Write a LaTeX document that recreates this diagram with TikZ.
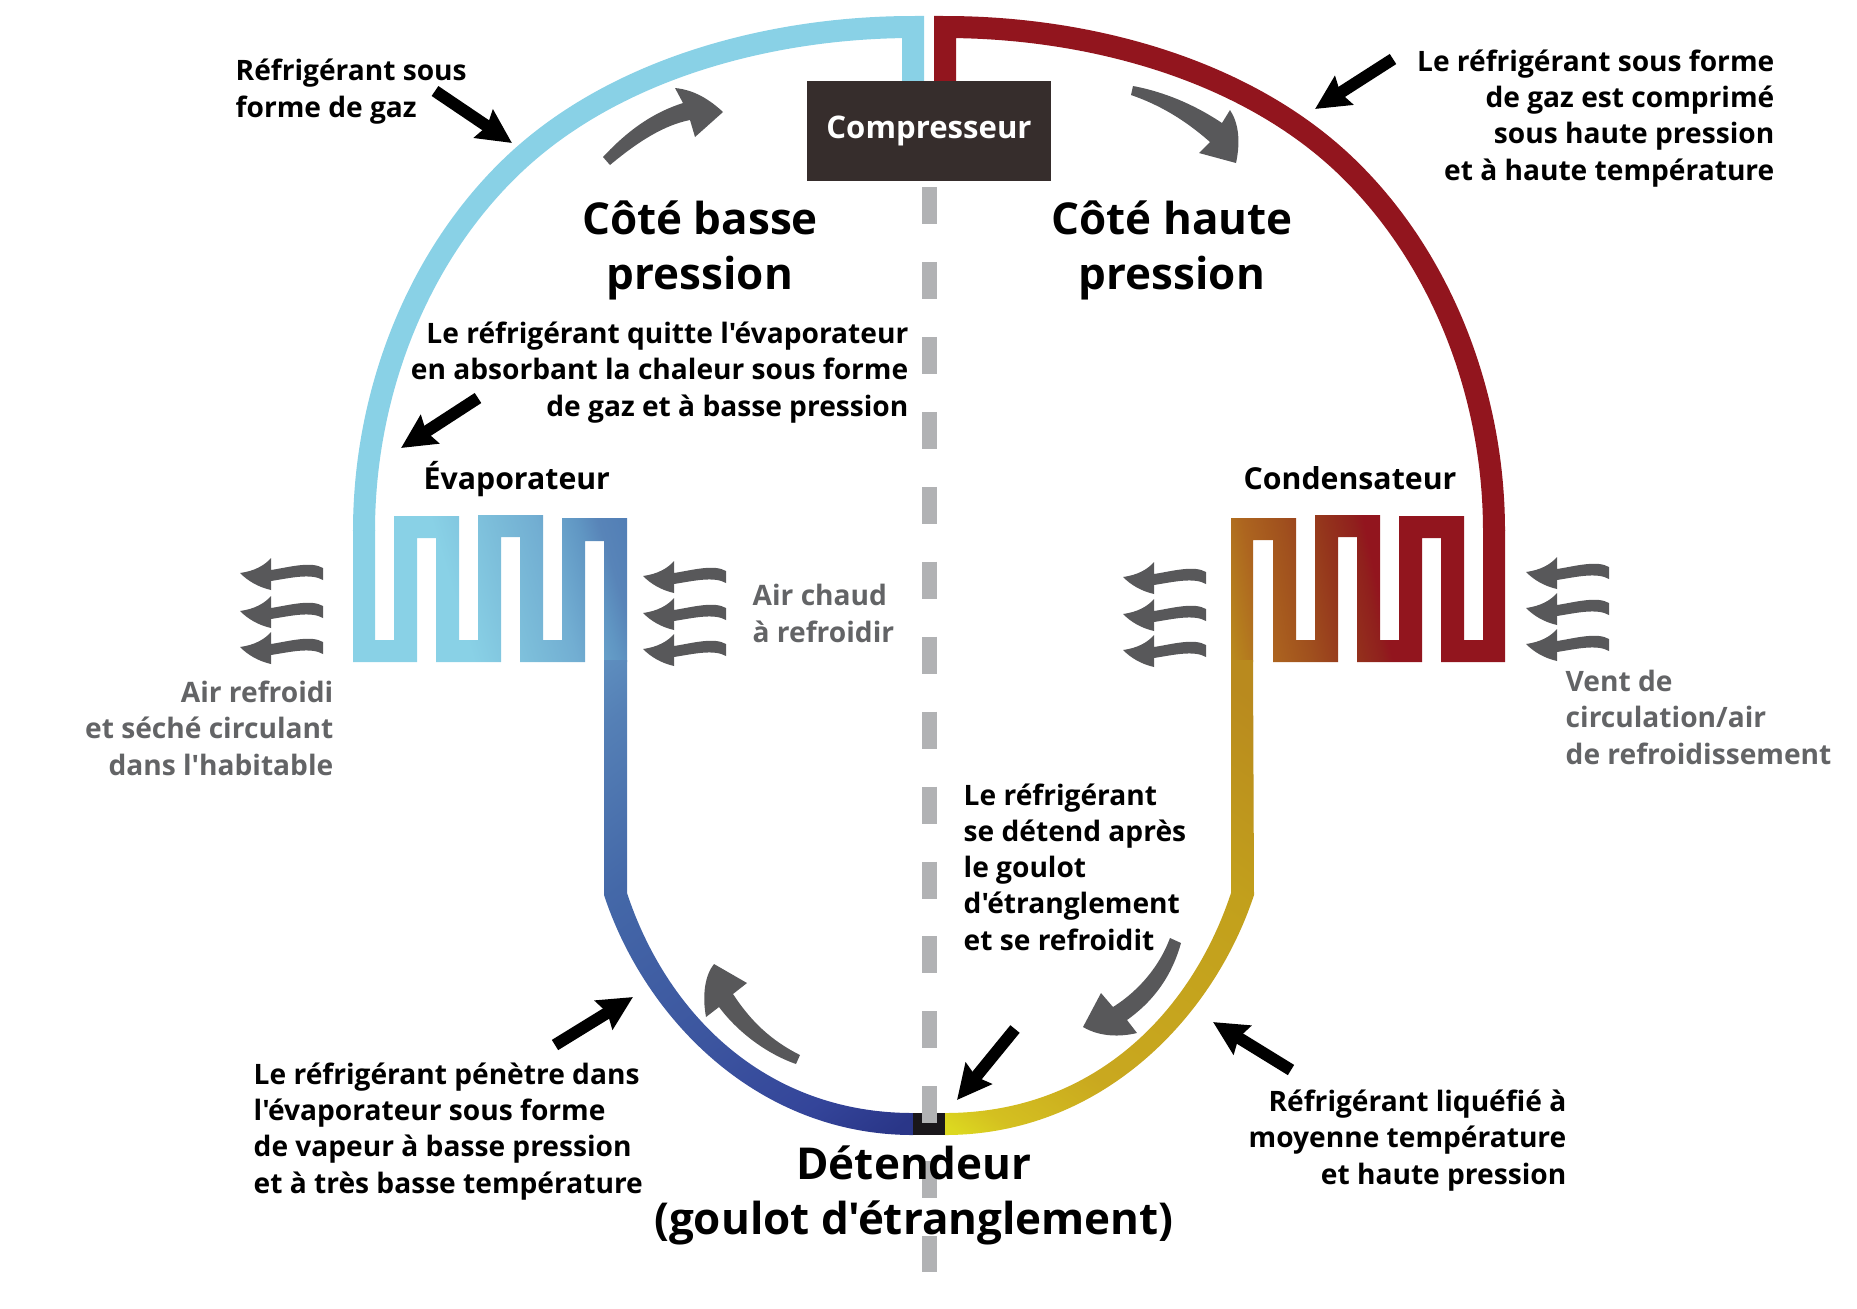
\documentclass[tikz,border=0pt]{standalone}
\usepackage{fontspec}
\usetikzlibrary{arrows.meta}
\newfontfamily\labelfont{Open Sans}
\definecolor{coldblue}{HTML}{89D1E6}
\definecolor{hotred}{HTML}{92151E}
\definecolor{boxbrown}{HTML}{362D2C}
\definecolor{flowgrey}{HTML}{58585A}
\definecolor{dashgrey}{HTML}{B1B2B4}
\definecolor{notegrey}{HTML}{636466}
\definecolor{throatblack}{HTML}{1A171B}
\definecolor{evb}{HTML}{7BBCD9}
\definecolor{evc}{HTML}{72AED2}
\definecolor{evd}{HTML}{6096C3}
\definecolor{eve}{HTML}{5884B8}
\definecolor{evf}{HTML}{507DB5}
\definecolor{lowa}{HTML}{5F90C0}
\definecolor{lowb}{HTML}{5580B6}
\definecolor{lowc}{HTML}{4468A8}
\definecolor{lowd}{HTML}{3C559F}
\definecolor{lowe}{HTML}{34459A}
\definecolor{lowf}{HTML}{2A3688}
\definecolor{cona}{HTML}{B98A1E}
\definecolor{conb}{HTML}{AD651F}
\definecolor{conc}{HTML}{A0501E}
\definecolor{cond}{HTML}{94341C}
\definecolor{cone}{HTML}{90201D}
\definecolor{liqa}{HTML}{DCD820}
\definecolor{liqb}{HTML}{D4C020}
\definecolor{liqc}{HTML}{C9A81F}
\definecolor{liqd}{HTML}{C2A01C}
\pgfdeclareverticalshading{evapramp}{100bp}{color(0bp)=(coldblue); color(50bp)=(coldblue); color(53bp)=(evb); color(55bp)=(evc); color(57bp)=(evd); color(58bp)=(eve); color(59.8bp)=(evf); color(100bp)=(evf)}
\pgfdeclareverticalshading{lowramp}{100bp}{color(0bp)=(lowa); color(50bp)=(lowa); color(53bp)=(lowb); color(60bp)=(lowc); color(68.8bp)=(lowd); color(74.5bp)=(lowe); color(78bp)=(lowf); color(100bp)=(lowf)}
\pgfdeclareverticalshading{condramp}{100bp}{color(0bp)=(cona); color(50bp)=(cona); color(52bp)=(conb); color(54bp)=(conc); color(56bp)=(cond); color(57.5bp)=(cone); color(58bp)=(hotred); color(100bp)=(hotred)}
\pgfdeclareverticalshading{liqramp}{100bp}{color(0bp)=(liqa); color(50bp)=(liqa); color(51.75bp)=(liqb); color(56.25bp)=(liqc); color(67.7bp)=(liqd); color(76.25bp)=(cona); color(100bp)=(cona)}
\newcommand{\pipew}{2.2mm}
\tikzset{
    coldpipe/.style={draw=coldblue, line width=\pipew},
    hotpipe/.style={draw=hotred, line width=\pipew},
    note/.style={font=\labelfont\bfseries\fontsize{8}{10.25}\selectfont, inner sep=0pt},
    partname/.style={font=\labelfont\bfseries\fontsize{8.6}{10.25}\selectfont, inner sep=0pt},
    greynote/.style={note, text=notegrey},
    title/.style={font=\labelfont\bfseries\fontsize{12.5}{15.5}\selectfont, inner sep=0pt, align=center},
    pointer/.style={line width=1.2mm, -{Stealth[length=3.4mm,width=3.3mm,inset=0.4mm]}},
    flow/.style={fill=flowgrey},
    wind/.pic={
        \fill[flowgrey] (0,0) .. controls (15,-2) and (25,-8) .. (31,-15) -- (31,-3)
            .. controls (50,-6) and (71,-12) .. (83,-5) -- (83,7)
            .. controls (71,0) and (50,5) .. (31,8) -- (31,17)
            .. controls (18,14) and (8,8) .. (0,0) -- cycle;
    }
}
\begin{document}
\begin{tikzpicture}[x=0.01cm,y=-0.01cm]
\useasboundingbox (0,0) rectangle (1857,1308);
    %Top arcs
    \draw[coldpipe] (913,85) -- (913,27) .. controls (770,27) and (611,69) .. (509,169)
        .. controls (416,260) and (364,395) .. (364,531);
    \draw[hotpipe] (945,85) -- (945,27) .. controls (1088,27) and (1247,69) .. (1349,169)
        .. controls (1442,260) and (1494,395) .. (1494,531);
    %Evaporateur
    \begin{scope}
        \path[clip] (353,530) rectangle (375,662) (353,640) rectangle (417,662)
            (394,516) rectangle (417,662) (394,516) rectangle (459,538)
            (436,516) rectangle (459,662) (436,640) rectangle (501,662)
            (478,515) rectangle (501,662) (478,515) rectangle (543,537)
            (520,515) rectangle (543,662) (520,640) rectangle (585,662)
            (562,518) rectangle (585,662) (562,518) rectangle (627,541)
            (604,518) rectangle (627,662);
        \shade[shading=evapramp, shading angle=-73.3] (-30,150) rectangle (970,1150);
    \end{scope}
    \begin{scope}
        \path[clip] (604,660) -- (627,660) -- (627,893) .. controls (666,1011) and (763,1113) .. (913,1113)
            -- (913,1135) .. controls (757,1135) and (644.5,1018) .. (604,895) -- cycle;
        \shade[shading=lowramp, shading angle=-143.1] (104,150) rectangle (1104,1150);
    \end{scope}
    %Condensateur
    \begin{scope}
        \path[clip] (1483,530) rectangle (1505,662) (1441,640) rectangle (1505,662)
            (1441,516) rectangle (1464,662) (1399,516) rectangle (1464,538)
            (1399,516) rectangle (1422,662) (1357,640) rectangle (1422,662)
            (1357,515) rectangle (1380,662) (1315,515) rectangle (1380,537)
            (1315,515) rectangle (1338,662) (1273,640) rectangle (1338,662)
            (1273,518) rectangle (1296,662) (1231,518) rectangle (1296,540)
            (1231,518) rectangle (1253,662);
        \shade[shading=condramp, shading angle=-78.2] (731,162) rectangle (1731,1162);
    \end{scope}
    \begin{scope}
        \path[clip] (1231,660) -- (1253,660) -- (1254,895) .. controls (1213.5,1018) and (1101,1135) .. (945,1135)
            -- (945,1113) .. controls (1095,1113) and (1192,1011) .. (1231,893) -- cycle;
        \shade[shading=liqramp, shading angle=-35.1] (445,624) rectangle (1445,1624);
    \end{scope}
    \node[fill=throatblack, inner sep=0pt, minimum width=0.32cm, minimum height=0.22cm] (throat) at (929,1124) {};
    %Separation
    \draw[dashgrey, line width=1.5mm, dash pattern=on 3.7mm off 3.79mm] (929.5,187) -- (929.5,1272);
    \node[fill=boxbrown, text=white, font=\labelfont\bfseries\fontsize{8.85}{10}\selectfont, inner sep=0pt,
        minimum width=2.44cm, minimum height=1cm] (compresseur) at (929,131) {Compresseur};
    %Big grey arrows
    \fill[flow] (603,157) .. controls (630,128) and (655,112) .. (683,103) -- (675,88)
        .. controls (695,90) and (710,100) .. (723,112) -- (695,137) -- (690,120)
        .. controls (665,125) and (640,140) .. (610,165) -- cycle;
    \fill[flow] (1133,86) .. controls (1165,92) and (1195,105) .. (1222,123) -- (1230,110)
        .. controls (1238,122) and (1241,140) .. (1236,163) -- (1199,153) -- (1210,142)
        .. controls (1185,120) and (1160,105) .. (1131,95) -- cycle;
    \fill[flow] (1170,938) .. controls (1160,965) and (1140,990) .. (1113,1007) -- (1101,993)
        -- (1083,1027) .. controls (1100,1037) and (1120,1037) .. (1137,1033) -- (1127,1020)
        .. controls (1155,1000) and (1172,975) .. (1181,943) -- cycle;
    \fill[flow] (800,1055) .. controls (770,1040) and (750,1020) .. (733,994) -- (747,983)
        -- (714,964) .. controls (705,975) and (702,995) .. (706,1017) -- (719,1007)
        .. controls (740,1035) and (770,1055) .. (796,1064) -- cycle;
    %Wind
    \foreach\x/\y in {240/573,240/611,240/647,643/576,643/613,643/649,1123/577,1123/614,1123/650,1526/572,1526/608,1526/644} {
        \pic at (\x,\y) {wind};
    }
    %Black arrows
    \coordinate (t1) at (435,91);    \coordinate (h1) at (512,143);
    \coordinate (t2) at (1393,59);   \coordinate (h2) at (1315,109);
    \coordinate (t3) at (478,398);   \coordinate (h3) at (401,448);
    \coordinate (t4) at (1015,1029); \coordinate (h4) at (957,1100);
    \coordinate (t5) at (555,1045);  \coordinate (h5) at (633,997);
    \coordinate (t6) at (1291,1070); \coordinate (h6) at (1213,1022);
    \foreach\a in {1,...,6} {
        \draw[pointer] (t\a) -- (h\a);
    }
    %Titles
    \node[title, anchor=base] (basse) at (700,289) {Côté basse\\pression};
    \node[title, anchor=base] (haute) at (1172,289) {Côté haute\\pression};
    \node[title, anchor=base] (detendeur) at (914,1234) {Détendeur\\(goulot d'étranglement)};
    %Notes
    \node[note, anchor=base west, align=left] (gaz) at (235,117) {Réfrigérant sous\\forme de gaz};
    \node[note, anchor=base east, align=right] (comprime) at (1775,180) {Le réfrigérant sous forme\\de gaz est comprimé\\sous haute pression\\et à haute température};
    \node[note, anchor=base east, align=right] (quitte) at (909,416) {Le réfrigérant quitte l'évaporateur\\en absorbant la chaleur sous forme\\de gaz et à basse pression};
    \node[partname, anchor=base west] (evap) at (423,489) {Évaporateur};
    \node[partname, anchor=base west] (cond) at (1243,489) {Condensateur};
    \node[greynote, anchor=base west, align=left] (chaud) at (752,642) {Air chaud\\à refroidir};
    \node[greynote, anchor=base east, align=right] (refroidi) at (334,775) {Air refroidi\\et séché circulant\\dans l'habitable};
    \node[greynote, anchor=base west, align=left] (vent) at (1565,764) {Vent de\\circulation/air\\de refroidissement};
    \node[note, anchor=base west, align=left] (detend) at (963,950) {Le réfrigérant\\se détend après\\le goulot\\d'étranglement\\et se refroidit};
    \node[note, anchor=base west, align=left] (penetre) at (253,1193) {Le réfrigérant pénètre dans\\l'évaporateur sous forme\\de vapeur à basse pression\\et à très basse température};
    \node[note, anchor=base east, align=right] (liquefie) at (1567,1184) {Réfrigérant liquéfié à\\moyenne température\\et haute pression};
\end{tikzpicture}
\end{document}
